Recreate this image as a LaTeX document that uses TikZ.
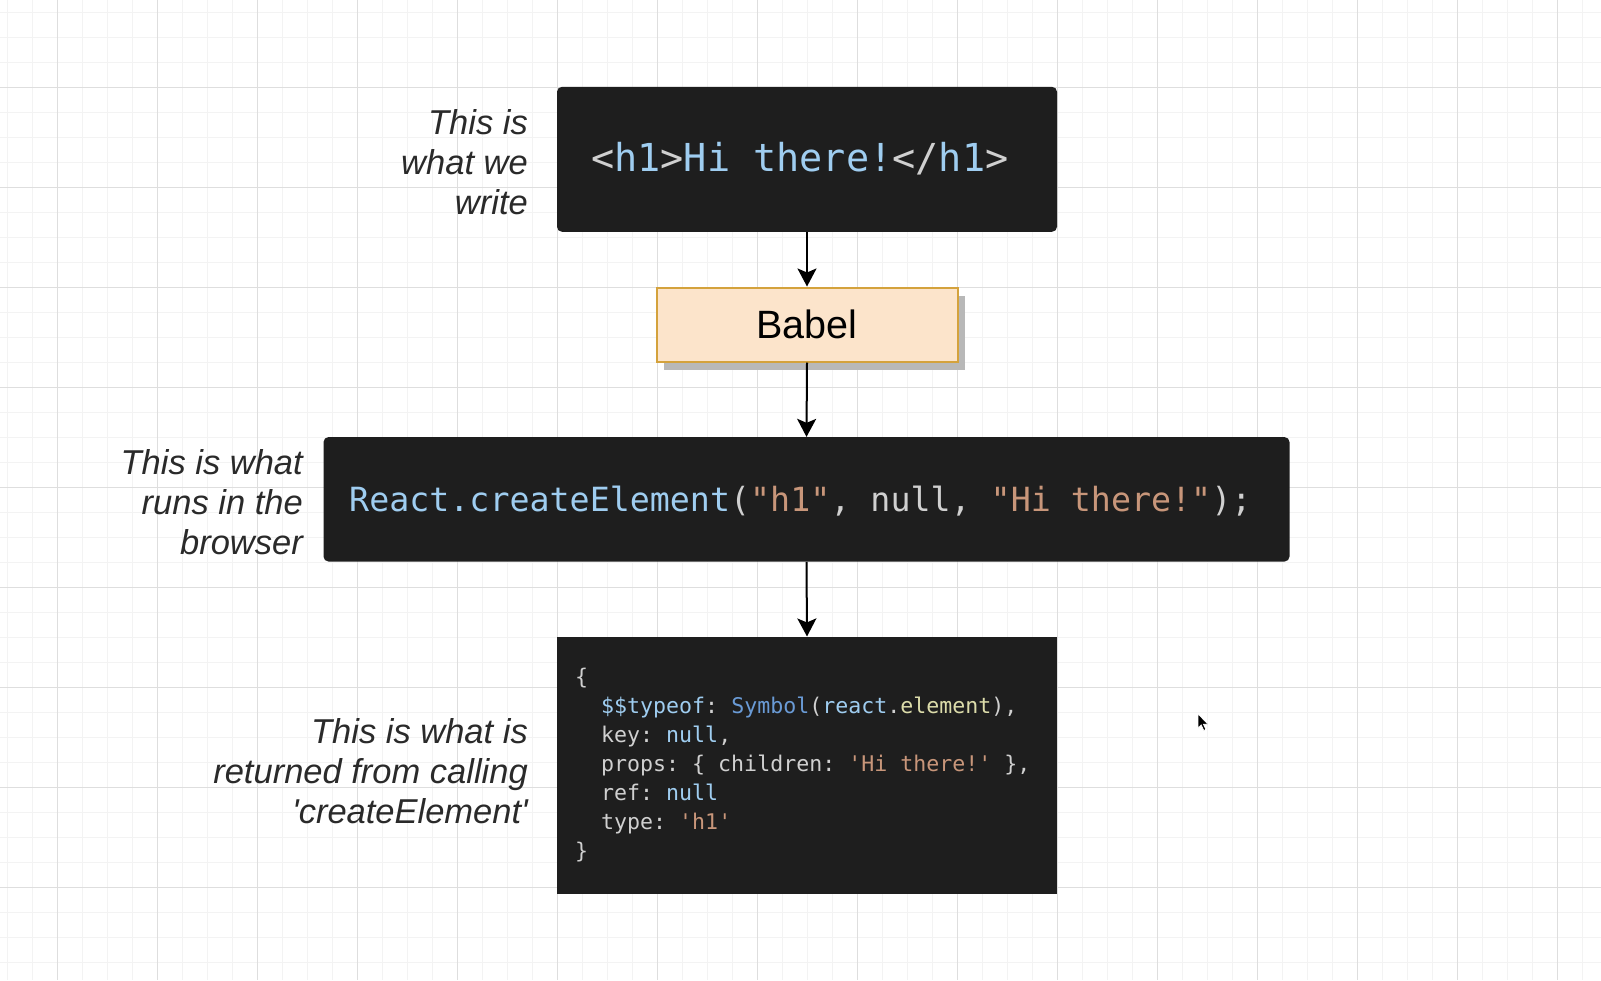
\documentclass[tikz,border=0pt]{standalone}
\usepackage{fontspec}
\usetikzlibrary{arrows.meta, positioning, shadows}
\newfontfamily\labelfont{Liberation Sans}
\newfontfamily\codefont{DejaVu Sans Mono}
\definecolor{gridmajor}{HTML}{DEDEDE}
\definecolor{gridminor}{HTML}{F3F3F3}
\definecolor{codebg}{HTML}{1E1E1E}
\definecolor{codeplain}{HTML}{D0D0D0}
\definecolor{codevar}{HTML}{9FCDF0}
\definecolor{codetype}{HTML}{6A9BD6}
\definecolor{codestr}{HTML}{C8967A}
\definecolor{codefn}{HTML}{DCDCAA}
\definecolor{babelfill}{HTML}{FCE4CB}
\definecolor{babeldraw}{HTML}{D4A23C}
\definecolor{notetext}{HTML}{2A2A2A}
\newcommand\ind{\phantom{xx}}

\begin{document}
\begin{tikzpicture}[x=1pt, y=-1pt,
  >={Stealth[length=18pt, width=19pt, inset=4pt]},
  codebox/.style={fill=codebg, inner sep=0pt},
  codetext/.style={inner sep=0pt, execute at begin node=\frenchspacing},
  note/.style={text=notetext, align=right, inner sep=0pt,
    font=\labelfont\itshape\fontsize{34.5}{40}\selectfont},
  flow/.style={->, line width=2pt, black}]

% Background and grid
\useasboundingbox (0,0) rectangle (1601,980);
\fill[white] (0,0) rectangle (1601,980);
\foreach \gx in {7,32,...,1600} \draw[gridminor, line width=1pt] (\gx,0) -- (\gx,980);
\foreach \gy in {12,37,...,980} \draw[gridminor, line width=1pt] (0,\gy) -- (1601,\gy);
\foreach \gx in {57,157,...,1557} \draw[gridmajor, line width=1pt] (\gx,0) -- (\gx,980);
\foreach \gy in {87,187,...,887} \draw[gridmajor, line width=1pt] (0,\gy) -- (1601,\gy);

% --- JSX box ---
\node[codebox, rounded corners=5pt, minimum width=500, minimum height=145] (jsx) at (807,159.3) {};
\node[codetext, anchor=base west, font=\codefont\fontsize{38.5}{46}\selectfont] (jsxcode) at (591,171.7)
  {\textcolor{codeplain}{<}\textcolor{codevar}{h1}\textcolor{codeplain}{>}\textcolor{codevar}{Hi there!}\textcolor{codeplain}{</}\textcolor{codevar}{h1}\textcolor{codeplain}{>}};
\node[note, anchor=base east] (jsxnote) at (528,214.7) {This is\\what we\\write};

% --- Babel ---
\node[fill=babelfill, draw=babeldraw, line width=2pt, minimum width=301, minimum height=74,
  drop shadow={shadow xshift=7pt, shadow yshift=-8pt, fill=black!28, opacity=1},
  font=\labelfont\fontsize{39.5}{46}\selectfont] (babel) at (807,324.5) {Babel};

% --- createElement call ---
\node[codebox, rounded corners=5pt, minimum width=966, minimum height=124.5] (call) at (806.5,499.3) {};
\node[codetext, anchor=base west, font=\codefont\fontsize{33.3}{40}\selectfont] (callcode) at (349,511.5)
  {\textcolor{codevar}{React.createElement}\textcolor{codeplain}{(}\textcolor{codestr}{"h1"}\textcolor{codeplain}{, null, }\textcolor{codestr}{"Hi there!"}\textcolor{codeplain}{);}};
\node[note, anchor=base east] (callnote) at (303,554.4) {This is what\\runs in the\\browser};

% --- returned object ---
\node[codebox, minimum width=500, minimum height=257.3] (obj) at (807,765.3) {};
\node[codetext, anchor=base west, align=left, text=codeplain,
  font=\codefont\fontsize{21.6}{29}\selectfont] (objcode) at (575,858.3)
  {\{\\
   \ind\textcolor{codevar}{\$\$typeof}: \textcolor{codetype}{Symbol}(\textcolor{codevar}{react}.\textcolor{codefn}{element}),\\
   \ind key: \textcolor{codevar}{null},\\
   \ind props: \{ children: \textcolor{codestr}{'Hi there!'} \},\\
   \ind ref: \textcolor{codevar}{null}\\
   \ind type: \textcolor{codestr}{'h1'}\\
   \}};
\node[note, anchor=base east] (objnote) at (528,823) {This is what is\\returned from calling\\'createElement'};

% Connectors
\draw[flow] (jsx.south) -- (babel.north);
\draw[flow] (babel.south) -- (call.north);
\draw[flow] (call.south) -- (obj.north);

% Mouse pointer
\fill[black, draw=white, line width=0.6pt] (1198,714) -- ++(0,14) -- ++(3.2,-3.2) -- ++(2.6,5.6)
  -- ++(2,-0.9) -- ++(-2.5,-5.4) -- ++(4.6,0) -- cycle;

\end{tikzpicture}
\end{document}
